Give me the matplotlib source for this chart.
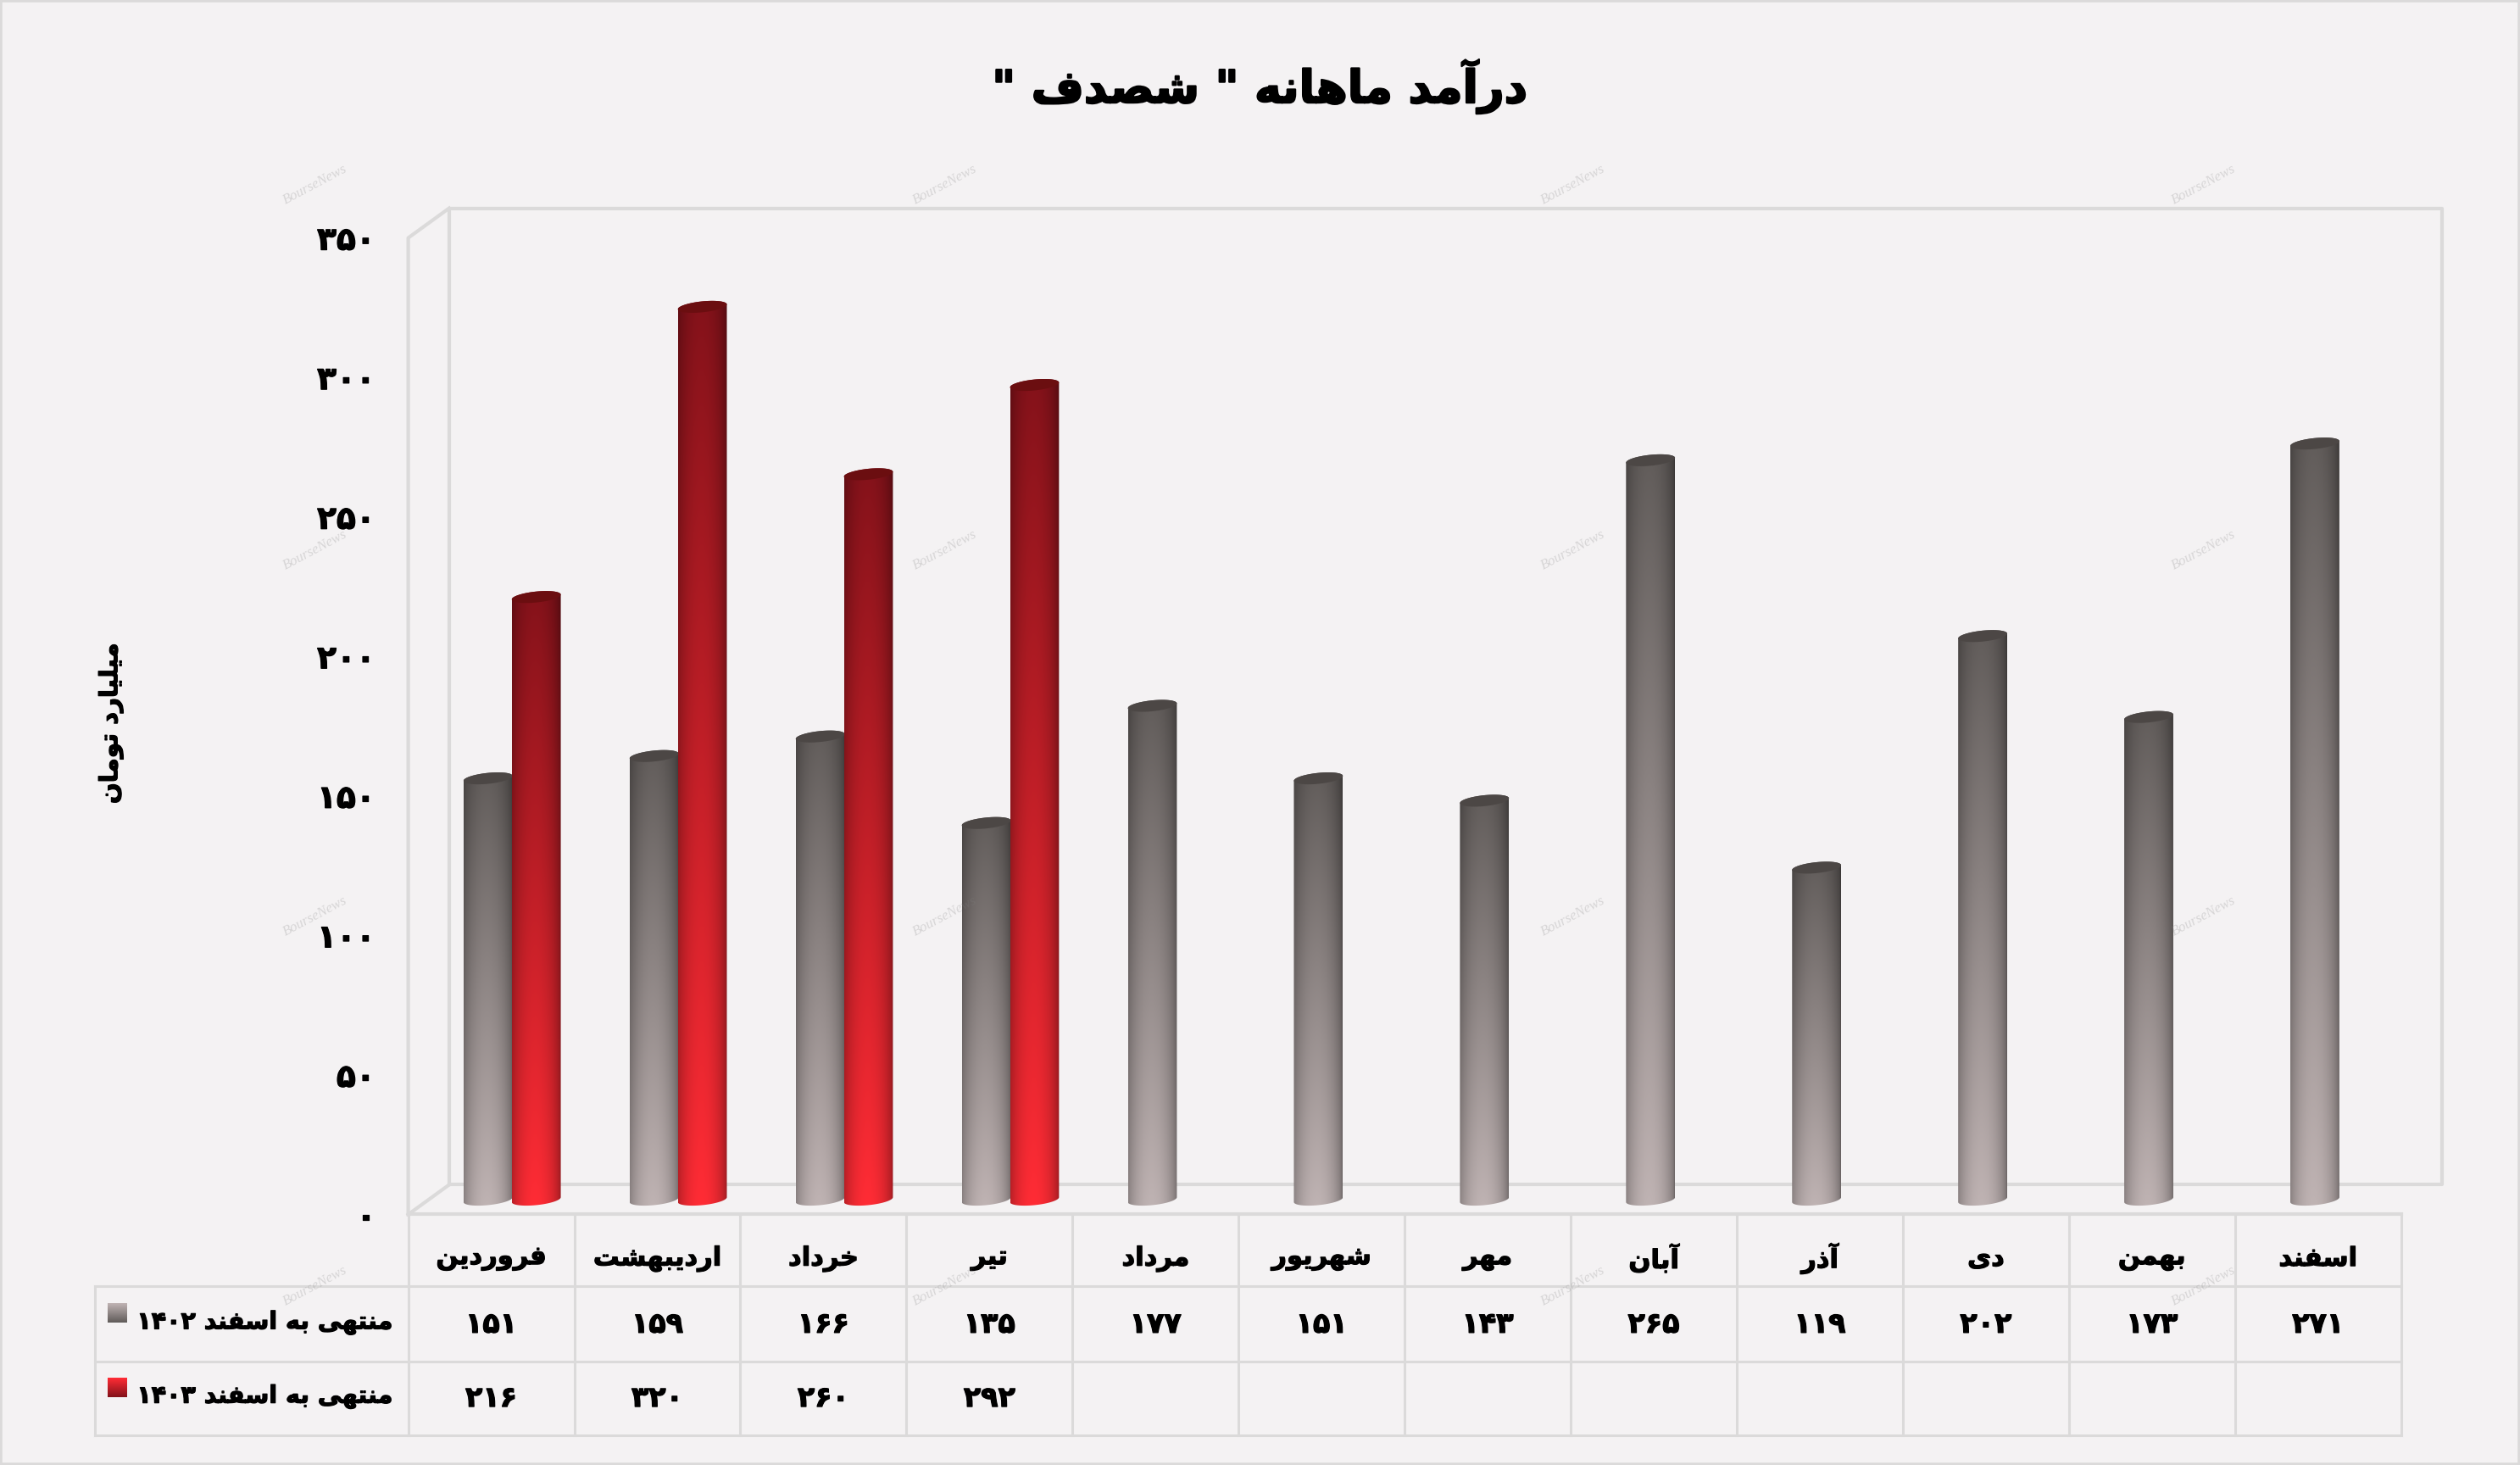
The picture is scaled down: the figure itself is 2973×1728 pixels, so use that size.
import numpy as np
import matplotlib
matplotlib.use("Agg")
import matplotlib.pyplot as plt
import matplotlib.patheffects as pe
from matplotlib.path import Path
from matplotlib.patches import PathPatch, Rectangle

months = ["فروردین", "اردیبهشت", "خرداد", "تیر", "مرداد", "شهریور", "مهر", "آبان", "آذر", "دی", "بهمن", "اسفند"]
values_1402 = [151, 159, 166, 135, 177, 151, 143, 265, 119, 202, 173, 271]
values_1403 = [216, 320, 260, 292]
series_1402 = "منتهی به اسفند ۱۴۰۲"
series_1403 = "منتهی به اسفند ۱۴۰۳"
y_ticks = [0, 50, 100, 150, 200, 250, 300, 350]
title_text = 'درآمد ماهانه " شصدف "'
y_label = "میلیارد تومان"

W, H = 2973, 1728
SCALE = W / 1568.0      # all layout numbers below were read at 1568 wide
BG = "#F4F2F3"
GRID = "#DBDADA"
GRAY_TOP, GRAY_BOTTOM, GRAY_CAP = "#615C5A", "#BFB3B3", "#4C4745"
RED_TOP, RED_BOTTOM, RED_CAP = "#84121A", "#FF2C35", "#6B0E10"
THICK = [pe.withStroke(linewidth=0.9, foreground="black")]

# isolated, final, initial, medial forms (matplotlib does not join Arabic letters)
FORMS = {
    "آ": (0xFE81, 0xFE82), "ا": (0xFE8D, 0xFE8E), "د": (0xFEA9, 0xFEAA), "ذ": (0xFEAB, 0xFEAC),
    "ر": (0xFEAD, 0xFEAE), "و": (0xFEED, 0xFEEE),
    "ب": (0xFE8F, 0xFE90, 0xFE91, 0xFE92), "ت": (0xFE95, 0xFE96, 0xFE97, 0xFE98),
    "خ": (0xFEA5, 0xFEA6, 0xFEA7, 0xFEA8), "س": (0xFEB1, 0xFEB2, 0xFEB3, 0xFEB4),
    "ش": (0xFEB5, 0xFEB6, 0xFEB7, 0xFEB8), "ص": (0xFEB9, 0xFEBA, 0xFEBB, 0xFEBC),
    "ف": (0xFED1, 0xFED2, 0xFED3, 0xFED4), "ل": (0xFEDD, 0xFEDE, 0xFEDF, 0xFEE0),
    "م": (0xFEE1, 0xFEE2, 0xFEE3, 0xFEE4), "ن": (0xFEE5, 0xFEE6, 0xFEE7, 0xFEE8),
    "ه": (0xFEE9, 0xFEEA, 0xFEEB, 0xFEEC), "ی": (0xFBFC, 0xFBFD, 0xFBFE, 0xFBFF),
}
DIGITS = "۰۱۲۳۴۵۶۷۸۹"


def fa_digits(n):
    return "".join(DIGITS[int(c)] for c in str(n))


def shape(text):
    """Join the letters and put them in visual order, digit runs stay left to right."""
    out = []
    for i, c in enumerate(text):
        if c not in FORMS:
            out.append(c)
            continue
        prev = text[i - 1] if i > 0 else ""
        nxt = text[i + 1] if i + 1 < len(text) else ""
        joins_prev = prev in FORMS and len(FORMS[prev]) == 4
        joins_next = nxt in FORMS and len(FORMS[c]) == 4
        if joins_prev and joins_next:
            form = FORMS[c][3]
        elif joins_next:
            form = FORMS[c][2]
        elif joins_prev:
            form = FORMS[c][1]
        else:
            form = FORMS[c][0]
        out.append(chr(form))
    result, run = [], []
    for c in reversed(out):
        if c in DIGITS:
            run.append(c)
        else:
            result.extend(reversed(run))
            run = []
            result.append(c)
    result.extend(reversed(run))
    return "".join(result)


def hex_rgb(c):
    return np.array(matplotlib.colors.to_rgb(c))


def cylinder(ax, center, value, width, top, bottom, cap):
    """One shaded cylinder standing on the floor, with the tilted ellipse ends of the 3D look."""
    a = width / 2
    b = 3.4 * SCALE / PX_PER_UNIT
    k = 1.5 * SCALE / PX_PER_UNIT
    y0, y1 = DEPTH, value + DEPTH
    t = np.linspace(0, np.pi, 40)
    xs = np.concatenate([center - a * np.cos(t), center + a * np.cos(t)])
    ys = np.concatenate([y0 - b * np.sin(t) - k * np.cos(t), y1 + b * np.sin(t) + k * np.cos(t)])
    body = PathPatch(Path(np.column_stack([xs, ys])), fc="none", ec="none", transform=ax.transData)
    ax.add_patch(body)

    fade = np.linspace(0, 1, 128)[:, None, None]
    across = np.linspace(-1, 1, 64)
    shade = (0.58 + 0.42 * np.cos((across + 0.05) * np.pi / 2.1) ** 0.55)[None, :, None]
    img = (hex_rgb(top)[None, None, :] * (1 - fade) + hex_rgb(bottom)[None, None, :] * fade) * shade
    im = ax.imshow(np.clip(img, 0, 1), extent=(center - a, center + a, y0 - b - k, y1 + b + k),
                   aspect="auto", origin="upper", interpolation="bilinear", zorder=3)
    im.set_clip_path(body)

    t = np.linspace(0, 2 * np.pi, 80)
    ax.fill(center + a * np.cos(t), y1 + b * np.sin(t) + k * np.cos(t), color=cap, lw=0, zorder=3)


fig = plt.figure(figsize=(W / 100, H / 100), dpi=100, facecolor=BG)
fig.add_artist(Rectangle((0, 0), 1, 1, transform=fig.transFigure, fc="none", ec=GRID, lw=4))

# main axes: x in month columns, y in the chart's own units on the front plane
LEFT, RIGHT = 254, 1494
Y350, Y0 = 148, 755.5
ax = fig.add_axes([LEFT * SCALE / W, 1 - Y0 * SCALE / H, (RIGHT - LEFT) * SCALE / W, (Y0 - Y350) * SCALE / H])
ax.set_autoscale_on(False)
ax.set_xlim(0, 12)
ax.set_ylim(0, 350)
ax.patch.set_visible(False)
for s in ax.spines.values():
    s.set_visible(False)

PX_PER_UNIT = (Y0 - Y350) * SCALE / 350
COL = (RIGHT - LEFT) / 12.0
DEPTH = 5.3                 # bars stand half way back on the floor
BACK_Y = (Y0 - 737) * SCALE / PX_PER_UNIT
BACK_X = 25.5 / COL

# walls
wall = dict(color=GRID, lw=3.0, clip_on=False, zorder=1, solid_capstyle="projecting")
ax.plot([BACK_X, BACK_X, 12 + BACK_X, 12 + BACK_X, BACK_X],
        [BACK_Y, 350 + BACK_Y, 350 + BACK_Y, BACK_Y, BACK_Y], **wall)
ax.plot([0, 0, BACK_X], [0, 350, 350 + BACK_Y], **wall)
ax.plot([0, BACK_X], [0, BACK_Y], **wall)

ax.set_xticks([])
ax.set_yticks(y_ticks)
ax.set_yticklabels([fa_digits(v) for v in y_ticks], fontweight="bold", fontsize=27)
for lab in ax.get_yticklabels():
    lab.set_path_effects(THICK)
ax.tick_params(axis="y", length=0, pad=28)

bar_w = 30.5 / COL
for i, v in enumerate(values_1402):
    cylinder(ax, i + 0.5 - 2 / COL, v, bar_w, GRAY_TOP, GRAY_BOTTOM, GRAY_CAP)
for i, v in enumerate(values_1403):
    cylinder(ax, i + 0.5 + 28 / COL, v, bar_w, RED_TOP, RED_BOTTOM, RED_CAP)
ax.set_xlim(0, 12)
ax.set_ylim(0, 350)

fig.text(784 * SCALE / W, 1 - 54 * SCALE / H, shape(title_text), ha="center", va="center",
         fontweight="bold", fontsize=38.5, path_effects=[pe.withStroke(linewidth=1.6, foreground="black")])
fig.text(69 * SCALE / W, 1 - 450 * SCALE / H, shape(y_label), ha="center", va="center",
         rotation=90, fontweight="bold", fontsize=21, path_effects=THICK)

# table below the chart, x shares the month columns
ROWS = [755, 800, 847, 893]
HEAD = 59
tab = fig.add_axes([HEAD * SCALE / W, 1 - ROWS[-1] * SCALE / H, (RIGHT - HEAD) * SCALE / W,
                    (ROWS[-1] - ROWS[0]) * SCALE / H])
tab.set_autoscale_on(False)
x_head = -(LEFT - HEAD) / COL
tab.set_xlim(x_head, 12)
tab.set_ylim(ROWS[-1], ROWS[0])
tab.axis("off")
line = dict(color=GRID, lw=2.2, clip_on=False, zorder=1, solid_capstyle="projecting")
tab.plot([0, 12], [ROWS[0], ROWS[0]], color=GRID, lw=3.0, clip_on=False, zorder=1)
for r in ROWS[1:]:
    tab.plot([x_head, 12], [r, r], **line)
tab.plot([x_head, x_head], [ROWS[1], ROWS[3]], **line)
for c in range(13):
    tab.plot([c, c], [ROWS[0], ROWS[3]], **line)

month_cell = dict(ha="center", va="center", fontweight="bold", fontsize=22, zorder=4, path_effects=THICK)
num_cell = dict(ha="center", va="center", fontweight="bold", fontsize=24, zorder=4, path_effects=THICK)
for i, m in enumerate(months):
    tab.text(i + 0.5, 783, shape(m), **month_cell)
for i, v in enumerate(values_1402):
    tab.text(i + 0.5, 824, fa_digits(v), **num_cell)
for i, v in enumerate(values_1403):
    tab.text(i + 0.5, 870, fa_digits(v), **num_cell)

head_x = x_head + (165 - HEAD) / COL
head_cell = dict(ha="center", va="center", fontweight="bold", fontsize=20.5, path_effects=THICK)
tab.text(head_x, 823, shape(series_1402), **head_cell)
tab.text(head_x, 869, shape(series_1403), **head_cell)

# legend keys
for y, top, bottom in [(811, GRAY_TOP, GRAY_BOTTOM), (857, RED_TOP, RED_BOTTOM)]:
    fade = np.linspace(0, 1, 32)[:, None, None]
    key = hex_rgb(top)[None, None, :] * (1 - fade) + hex_rgb(bottom)[None, None, :] * fade
    tab.imshow(key, extent=(x_head + 8 / COL, x_head + 20 / COL, y + 12, y), aspect="auto",
               origin="lower", interpolation="bilinear", zorder=3)
tab.set_xlim(x_head, 12)
tab.set_ylim(ROWS[-1], ROWS[0])

# site watermark
for wx in [196, 588, 979, 1371]:
    for wy in [115, 342, 570, 800]:
        fig.text(wx * SCALE / W, 1 - wy * SCALE / H, "BourseNews", color="#808080", alpha=0.25, fontsize=12,
                 family="Liberation Serif", style="italic", rotation=28, ha="center", va="center", zorder=5)

fig.savefig("out.png", dpi=100, facecolor=BG)
